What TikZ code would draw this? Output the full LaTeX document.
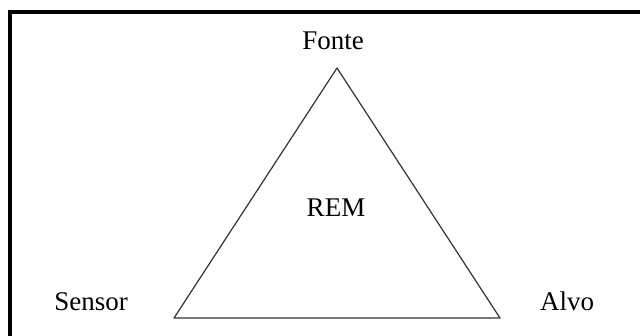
\documentclass[tikz,border=0pt]{standalone}
\usepackage{fontspec}
\setmainfont{Liberation Serif}
\begin{document}
\begin{tikzpicture}[x=1pt,y=-1pt,
  lbl/.style={anchor=base,inner sep=0pt,font=\fontsize{27}{32}\selectfont},
  edge/.style={draw=black!80,line width=1.2pt,line join=round}]
\useasboundingbox (0,0) rectangle (640,335);
\fill[white] (0,0) rectangle (640,335);
\draw[line width=4pt] (640,12) -- (10,12) -- (10,337);
\coordinate (F) at (337,68);
\coordinate (S) at (174,318);
\coordinate (A) at (500,318);
\draw[edge] (F) -- (S) -- (A) -- cycle;
\node[lbl] (fonte) at (333,49) {Fonte};
\node[lbl] (rem) at (336,216) {REM};
\node[lbl] (sensor) at (91,310) {Sensor};
\node[lbl] (alvo) at (567,310) {Alvo};
\end{tikzpicture}
\end{document}
